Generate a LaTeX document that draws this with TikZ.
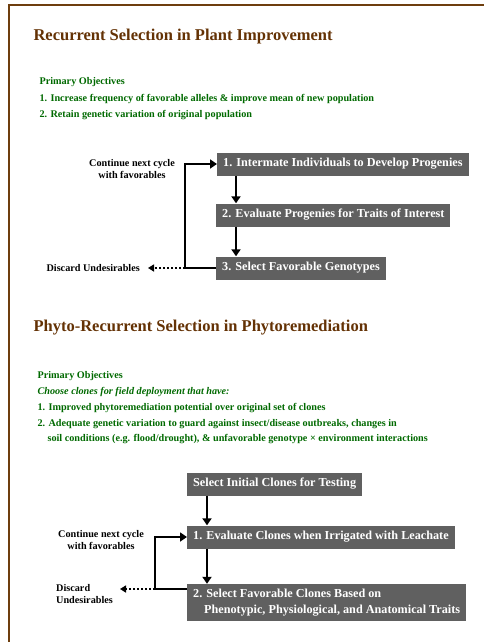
\documentclass[tikz,border=0pt]{standalone}
\usepackage{fontspec}
\setmainfont{Liberation Serif}
\usepackage{xcolor}
\definecolor{framebrown}{RGB}{110, 62, 14}
\definecolor{titlebrown}{RGB}{100, 50, 5}
\definecolor{objgreen}{RGB}{0, 105, 0}
\definecolor{boxgray}{RGB}{96, 96, 96}
\usetikzlibrary{arrows.meta,positioning}

\begin{document}
\begin{tikzpicture}[x=1pt, y=-1pt,
    stepbox/.style={fill=boxgray, text=white, font=\fontsize{12.2}{15}\selectfont\bfseries,
        anchor=west, inner xsep=6pt, minimum height=23pt},
    sectitle/.style={anchor=west, text=titlebrown, font=\fontsize{16.5}{19}\selectfont\bfseries},
    objline/.style={anchor=west, text=objgreen, font=\fontsize{10.2}{12}\selectfont\bfseries},
    sidelabel/.style={font=\fontsize{10.2}{12}\selectfont\bfseries, inner sep=0pt},
    flowarrow/.style={line width=2.4pt, -{Triangle[length=7pt, width=9pt]}},
    loopline/.style={line width=2pt},
    discardarrow/.style={line width=2pt, dotted, shorten >=8pt, -{Triangle[length=6pt, width=7pt]}}]

    \useasboundingbox (0,0) rectangle (484,642);

    % Frame
    \draw[framebrown, line width=2.2pt] (9,642) -- (9,5) -- (484,5);

    % Section 1
    \node[sectitle] (t1) at (30,37) {Recurrent Selection in Plant Improvement};
    \node[objline] (o1) at (36,82) {Primary Objectives};
    \node[objline] (o2) at (36,99) {1. Increase frequency of favorable alleles \& improve mean of new population};
    \node[objline] (o3) at (36,115) {2. Retain genetic variation of original population};

    \node[stepbox] (b1) at (217,164) {1. Intermate Individuals to Develop Progenies};
    \node[stepbox] (b2) at (216,215) {2. Evaluate Progenies for Traits of Interest};
    \node[stepbox] (b3) at (216,268) {3. Select Favorable Genotypes};

    \node[sidelabel, align=center] (cont1) at (132,169) {Continue next cycle\\ with favorables};
    \node[sidelabel, anchor=east] (disc1) at (140,268) {Discard Undesirables};

    \draw[flowarrow] ([xshift=20pt]b2.west |- b1.south) -- ([xshift=20pt]b2.north west);
    \draw[flowarrow] ([xshift=20pt]b2.south west) -- ([xshift=20pt]b3.north west);
    \coordinate (loop1) at (185,268);
    \draw[loopline] (b3.west) -- (loop1);
    \draw[flowarrow, line width=2pt] (loop1) |- (b1.west);
    \draw[discardarrow] (loop1) -- (disc1.east);

    % Section 2
    \node[sectitle] (t2) at (30,328) {Phyto-Recurrent Selection in Phytoremediation};
    \node[objline] (p1) at (34,376) {Primary Objectives};
    \node[objline] (p2) at (34,392) {\itshape Choose clones for field deployment that have:};
    \node[objline] (p3) at (34,408) {1. Improved phytoremediation potential over original set of clones};
    \node[objline] (p4) at (34,424) {2. Adequate genetic variation to guard against insect/disease outbreaks, changes in};
    \node[objline] (p5) at (44,439) {soil conditions (e.g. flood/drought), \& unfavorable genotype × environment interactions};

    \node[stepbox] (c0) at (187,484) {Select Initial Clones for Testing};
    \node[stepbox] (c1) at (187,537) {1. Evaluate Clones when Irrigated with Leachate};
    \node[stepbox, align=left, minimum height=37pt, font=\fontsize{12.2}{15.5}\selectfont\bfseries] (c2) at (187,602.5)
        {2. Select Favorable Clones Based on\\ \hspace*{0.9em}Phenotypic, Physiological, and Anatomical Traits};

    \node[sidelabel, align=center] (cont2) at (101,540) {Continue next cycle\\ with favorables};
    \node[sidelabel, align=left, anchor=west] (disc2) at (56,594) {Discard\\ Undesirables};

    \draw[flowarrow] ([xshift=20pt]c0.south west) -- ([xshift=20pt]c1.north west);
    \draw[flowarrow] ([xshift=20pt]c1.south west) -- ([xshift=20pt]c2.north west);
    \coordinate (loop2) at (155,589);
    \draw[loopline] (loop2 -| c2.west) -- (loop2);
    \draw[flowarrow, line width=2pt] (loop2) |- (c1.west);
    \draw[discardarrow, shorten >=0pt] (loop2) -- (120,589);
\end{tikzpicture}
\end{document}
